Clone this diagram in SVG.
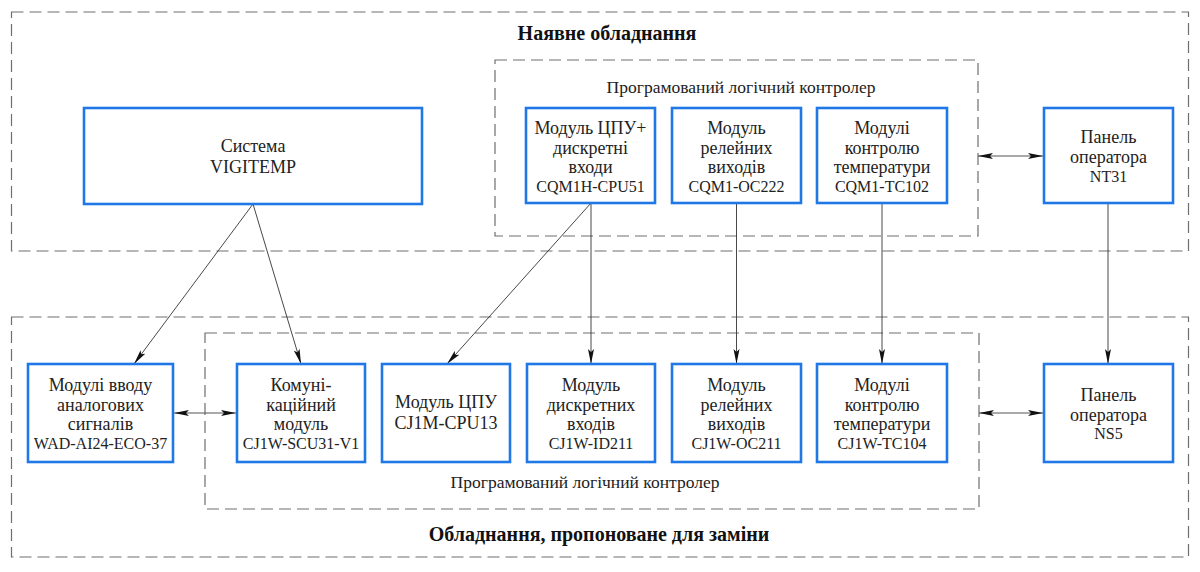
<svg xmlns="http://www.w3.org/2000/svg" width="1200" height="572" viewBox="0 0 1200 572">
<style>
  .bg { fill: #ffffff; }
  .dash { fill: none; stroke: #6e6e6e; stroke-width: 1.2; stroke-dasharray: 12 6; }
  .box { fill: #ffffff; stroke: #1f78e6; stroke-width: 2.6; }
  text { font-family: 'Liberation Serif', 'Times New Roman', Times, serif; fill: #222222; text-anchor: middle; }
  .t { font-size: 18px; }
  .c { font-size: 16px; }
  .big { font-size: 18px; }
  .lbl { font-size: 17.5px; }
  .title { font-size: 20px; font-weight: bold; fill: #111111; }
  .ln { fill: none; stroke: #333333; stroke-width: 0.9; marker-end: url(#ah); }
  .dbl { fill: none; stroke: #555555; stroke-width: 1; marker-end: url(#ah); marker-start: url(#ah); }
</style>
<defs>
  <marker id="ah" markerUnits="userSpaceOnUse" markerWidth="16" markerHeight="8" refX="15" refY="3" orient="auto-start-reverse">
    <path d="M0,0 L15,3 L0,6 L3,3 z" fill="#111111"/>
  </marker>
</defs>
<rect class="bg" x="0" y="0" width="1200" height="572"/>

<g id="containers">
  <rect class="dash" x="11.5" y="12" width="1177" height="239"/>
  <rect class="dash" x="495" y="60" width="483" height="176"/>
  <rect class="dash" x="11.5" y="317" width="1177" height="240"/>
  <rect class="dash" x="205" y="333" width="774" height="176"/>
  <text class="title" x="607" y="40">Наявне обладнання</text>
  <text class="lbl" x="741" y="93">Програмований логічний контролер</text>
  <text class="lbl" x="585" y="488">Програмований логічний контролер</text>
  <text class="title" x="599" y="541">Обладнання, пропоноване для заміни</text>
</g>

<g id="connectors">
  <line class="ln" x1="253" y1="204" x2="134" y2="364"/>
  <line class="ln" x1="253" y1="204" x2="301" y2="364"/>
  <line class="ln" x1="591" y1="203" x2="447" y2="364"/>
  <line class="ln" x1="591" y1="203" x2="591" y2="364"/>
  <line class="ln" x1="736.5" y1="203" x2="736.5" y2="364"/>
  <line class="ln" x1="882" y1="203" x2="882" y2="364"/>
  <line class="ln" x1="1108" y1="203" x2="1108" y2="364"/>
  <line class="dbl" x1="978" y1="156" x2="1043" y2="156"/>
  <line class="dbl" x1="174" y1="413" x2="236" y2="413"/>
  <line class="dbl" x1="979" y1="413" x2="1043" y2="413"/>
</g>

<g id="vigitemp">
  <rect class="box" x="84" y="108" width="338" height="96"/>
  <text class="big" x="253" y="152">Система</text>
  <text class="big" x="253" y="173">VIGITEMP</text>
</g>

<g id="cqm1h-cpu51">
  <rect class="box" x="526" y="108" width="129" height="95"/>
  <text class="t" x="590.5" y="134">Модуль ЦПУ+</text>
  <text class="t" x="590.5" y="154">дискретні</text>
  <text class="t" x="590.5" y="173">входи</text>
  <text class="c" x="590.5" y="192">CQM1H-CPU51</text>
</g>

<g id="cqm1-oc222">
  <rect class="box" x="672" y="108" width="129" height="95"/>
  <text class="t" x="736.5" y="134">Модуль</text>
  <text class="t" x="736.5" y="154">релейних</text>
  <text class="t" x="736.5" y="173">виходів</text>
  <text class="c" x="736.5" y="192">CQM1-OC222</text>
</g>

<g id="cqm1-tc102">
  <rect class="box" x="817" y="108" width="130" height="95"/>
  <text class="t" x="882" y="134">Модулі</text>
  <text class="t" x="882" y="154">контролю</text>
  <text class="t" x="882" y="173">температури</text>
  <text class="c" x="882" y="192">CQM1-TC102</text>
</g>

<g id="nt31">
  <rect class="box" x="1044" y="108" width="129" height="95"/>
  <text class="t" x="1108.5" y="143">Панель</text>
  <text class="t" x="1108.5" y="163">оператора</text>
  <text class="c" x="1108.5" y="182">NT31</text>
</g>

<g id="wad-ai24">
  <rect class="box" x="28" y="364" width="145" height="98"/>
  <text class="t" x="100.5" y="391">Модулі вводу</text>
  <text class="t" x="100.5" y="411">аналогових</text>
  <text class="t" x="100.5" y="430">сигналів</text>
  <text class="c" x="100.5" y="449">WAD-AI24-ECO-37</text>
</g>

<g id="cj1w-scu31">
  <rect class="box" x="237" y="364" width="128" height="98"/>
  <text class="t" x="301" y="391">Комуні-</text>
  <text class="t" x="301" y="411">каційний</text>
  <text class="t" x="301" y="430">модуль</text>
  <text class="c" x="301" y="449">CJ1W-SCU31-V1</text>
</g>

<g id="cj1m-cpu13">
  <rect class="box" x="382" y="364" width="128" height="98"/>
  <text class="big" x="446" y="408">Модуль ЦПУ</text>
  <text class="big" x="446" y="429">CJ1M-CPU13</text>
</g>

<g id="cj1w-id211">
  <rect class="box" x="527" y="364" width="128" height="98"/>
  <text class="t" x="591" y="391">Модуль</text>
  <text class="t" x="591" y="411">дискретних</text>
  <text class="t" x="591" y="430">входів</text>
  <text class="c" x="591" y="449">CJ1W-ID211</text>
</g>

<g id="cj1w-oc211">
  <rect class="box" x="672" y="364" width="129" height="98"/>
  <text class="t" x="736.5" y="391">Модуль</text>
  <text class="t" x="736.5" y="411">релейних</text>
  <text class="t" x="736.5" y="430">виходів</text>
  <text class="c" x="736.5" y="449">CJ1W-OC211</text>
</g>

<g id="cj1w-tc104">
  <rect class="box" x="817" y="364" width="130" height="98"/>
  <text class="t" x="882" y="391">Модулі</text>
  <text class="t" x="882" y="411">контролю</text>
  <text class="t" x="882" y="430">температури</text>
  <text class="c" x="882" y="449">CJ1W-TC104</text>
</g>

<g id="ns5">
  <rect class="box" x="1044" y="364" width="129" height="98"/>
  <text class="t" x="1108.5" y="401">Панель</text>
  <text class="t" x="1108.5" y="421">оператора</text>
  <text class="c" x="1108.5" y="439">NS5</text>
</g>
</svg>
